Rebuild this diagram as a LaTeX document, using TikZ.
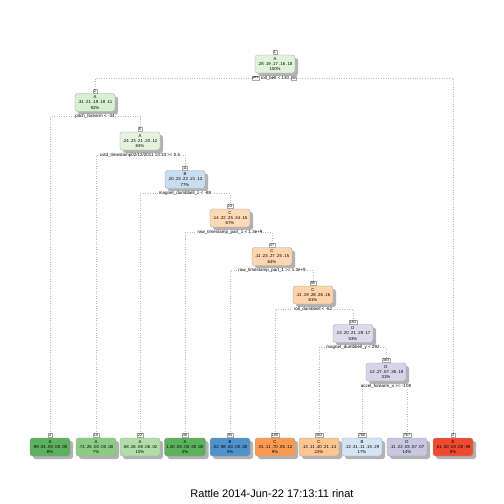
\documentclass[tikz,border=0pt]{standalone}
\usepackage{fontspec}
\setmainfont{Liberation Sans}
\usetikzlibrary{shadows,backgrounds}
\definecolor{cRoot}{HTML}{E0F2D9}
\definecolor{cTwo}{HTML}{D9EFD1}
\definecolor{cFive}{HTML}{E3F3DD}
\definecolor{cEleven}{HTML}{C9DDF0}
\definecolor{cTwThree}{HTML}{FDD9B5}
\definecolor{cFSeven}{HTML}{FDD6B0}
\definecolor{cNFive}{HTML}{FDD3AA}
\definecolor{cOne91}{HTML}{DCDAEB}
\definecolor{cThree83}{HTML}{D6D4E9}
\definecolor{lFour}{HTML}{5DB05D}
\definecolor{lTen}{HTML}{8CCB86}
\definecolor{lTwTwo}{HTML}{B2DDA8}
\definecolor{lFSix}{HTML}{5CB15C}
\definecolor{lNFour}{HTML}{4F91CA}
\definecolor{lOne90}{HTML}{F99A52}
\definecolor{lThree82}{HTML}{FDC592}
\definecolor{lSeven66}{HTML}{D3E4F3}
\definecolor{lSeven67}{HTML}{C8C6E1}
\definecolor{lThree}{HTML}{EE4A32}
\tikzset{
  tbox/.style={draw=gray!75, line width=0.3pt, rounded corners=2.5pt, align=center,
    font=\fontsize{4.3}{5.2}\selectfont, inner xsep=2pt, inner ysep=1pt,
    minimum width=40pt, minimum height=18pt,
    drop shadow={shadow xshift=3pt, shadow yshift=-3pt, fill=black!40, opacity=0.75}},
  num/.style={draw=gray!70, fill=white, line width=0.25pt, inner sep=0.6pt,
    font=\fontsize{3.8}{4}\selectfont, anchor=south},
  split/.style={fill=white, inner sep=0.5pt, font=\fontsize{4.5}{5}\selectfont},
  yn/.style={draw=gray!70, fill=white, line width=0.25pt, inner sep=0.5pt, font=\fontsize{3.8}{4}\selectfont},
  conn/.style={draw=gray!55, dotted, line width=0.45pt},
}
\newcommand\tnode[6]{%
  \node[tbox, fill=#4] (#1) at (#2,#3) {#6};
  \node[num] (#1n) at ([yshift=0.3pt]#1.north) {#5};
}
\newcommand\splabel[2]{%
  \node[split] (#1s) at ([yshift=-5pt]#1.south) {#2};
}
\begin{document}
\begin{tikzpicture}[x=1pt,y=-1pt]
\useasboundingbox (0,0) rectangle (504,504);

% internal nodes
\tnode{n1}{275}{64}{cRoot}{1}{A\\.28 .19 .17 .16 .18\\100\%}
\tnode{n2}{95}{102.5}{cTwo}{2}{A\\.31 .21 .19 .18 .11\\92\%}
\tnode{n5}{140}{141}{cFive}{5}{A\\.24 .23 .21 .20 .12\\84\%}
\tnode{n11}{185}{179.5}{cEleven}{11}{B\\.20 .23 .22 .21 .13\\77\%}
\tnode{n23}{230}{218}{cTwThree}{23}{C\\.14 .22 .25 .24 .15\\67\%}
\tnode{n47}{272}{256.5}{cFSeven}{47}{C\\.11 .23 .27 .25 .15\\64\%}
\tnode{n95}{313}{295}{cNFive}{95}{C\\.11 .19 .28 .26 .16\\61\%}
\tnode{n191}{353}{333.5}{cOne91}{191}{D\\.13 .20 .21 .29 .17\\53\%}
\tnode{n383}{386}{372}{cThree83}{383}{D\\.12 .27 .07 .35 .19\\31\%}

% leaves
\tnode{l4}{50}{447}{lFour}{4}{A\\.99 .01 .00 .00 .00\\8\%}
\tnode{l10}{96}{447}{lTen}{10}{A\\.74 .26 .00 .00 .00\\7\%}
\tnode{l22}{140}{447}{lTwTwo}{22}{A\\.58 .26 .08 .06 .02\\10\%}
\tnode{l46}{185}{447}{lFSix}{46}{A\\1.00 .00 .00 .00 .00\\3\%}
\tnode{l94}{230}{447}{lNFour}{94}{B\\.02 .98 .00 .00 .00\\3\%}
\tnode{l190}{275}{447}{lOne90}{190}{C\\.01 .11 .70 .05 .12\\9\%}
\tnode{l382}{319}{447}{lThree82}{382}{C\\.13 .11 .40 .21 .14\\22\%}
\tnode{l766}{362}{447}{lSeven66}{766}{B\\.13 .31 .11 .15 .29\\17\%}
\tnode{l767}{407}{447}{lSeven67}{767}{D\\.11 .22 .03 .57 .07\\14\%}
\tnode{l3}{453}{447}{lThree}{3}{E\\.01 .00 .00 .00 .99\\8\%}

% split labels
\splabel{n1}{roll\_belt < 130}
\node[yn, anchor=east] (yes) at ([xshift=-1pt]n1s.west) {yes};
\node[yn, anchor=west] (no) at ([xshift=1pt]n1s.east) {no};
\splabel{n2}{pitch\_forearm < -34}
\splabel{n5}{cvtd\_timestamp02/12/2011 13:33 >= 0.5}
\splabel{n11}{magnet\_dumbbell\_z < -88}
\splabel{n23}{raw\_timestamp\_part\_1 < 1.3e+9}
\splabel{n47}{raw\_timestamp\_part\_1 >= 1.3e+9}
\splabel{n95}{roll\_dumbbell < -62}
\splabel{n191}{magnet\_dumbbell\_y < 292}
\splabel{n383}{accel\_forearm\_x >= -108}

% connectors (behind nodes and labels)
\begin{scope}[on background layer]
\fill[white] (0,0) rectangle (504,504);
\draw[conn] (n2n.north) |- (n1s.center) -| (l3n.north);
\draw[conn] (l4n.north) |- (n2s.center) -| (n5n.north);
\draw[conn] (l10n.north) |- (n5s.center) -| (n11n.north);
\draw[conn] (l22n.north) |- (n11s.center) -| (n23n.north);
\draw[conn] (l46n.north) |- (n23s.center) -| (n47n.north);
\draw[conn] (l94n.north) |- (n47s.center) -| (n95n.north);
\draw[conn] (l190n.north) |- (n95s.center) -| (n191n.north);
\draw[conn] (l382n.north) |- (n191s.center) -| (n383n.north);
\draw[conn] (l766n.north) |- (n383s.center) -| (l767n.north);
\end{scope}

\node[font=\fontsize{11}{13}\selectfont] (title) at (272,494) {Rattle 2014-Jun-22 17:13:11 rinat};
\end{tikzpicture}
\end{document}
